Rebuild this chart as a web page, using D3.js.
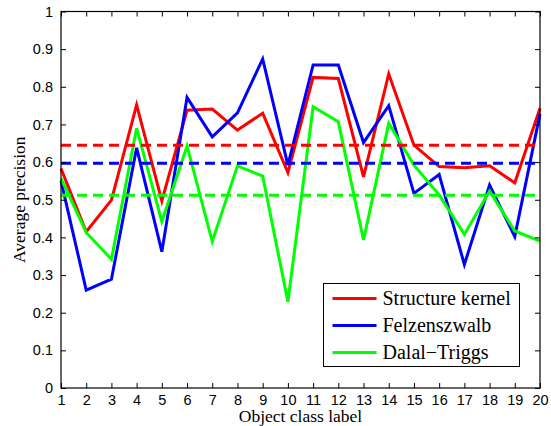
<!DOCTYPE html>
<html>
<head>
<meta charset="utf-8">
<script src="https://cdn.jsdelivr.net/npm/d3@7"></script>
<style>
  body { margin: 0; background: #fff; }
  svg { display: block; }
</style>
</head>
<body>
<svg id="chart" width="551" height="426"></svg>
<script>
// object classes on the x axis
const classes = [1, 2, 3, 4, 5, 6, 7, 8, 9, 10, 11, 12, 13, 14, 15, 16, 17, 18, 19, 20];

// average precision per class
const structureKernel = [0.583, 0.415, 0.499, 0.752, 0.497, 0.738, 0.741, 0.685, 0.73, 0.572,
  0.825, 0.822, 0.561, 0.834, 0.645, 0.588, 0.585, 0.59, 0.545, 0.743];
const felzenszwalb = [0.55, 0.26, 0.289, 0.638, 0.362, 0.772, 0.667, 0.731, 0.874, 0.592,
  0.858, 0.858, 0.652, 0.75, 0.517, 0.567, 0.328, 0.539, 0.402, 0.728];
const dalalTriggs = [0.557, 0.413, 0.342, 0.69, 0.442, 0.643, 0.389, 0.59, 0.563, 0.229,
  0.747, 0.707, 0.393, 0.703, 0.592, 0.513, 0.408, 0.523, 0.417, 0.39];

// mean AP of each method (dashed lines)
const meanAP = [0.645, 0.597, 0.512];

const seriesNames = ["Structure kernel", "Felzenszwalb", "Dalal\u2212Triggs"];
const yTicks = [0, 0.1, 0.2, 0.3, 0.4, 0.5, 0.6, 0.7, 0.8, 0.9, 1];

const colors = ["#ff0000", "#0000ff", "#00ff00"];
const seriesValues = [structureKernel, felzenszwalb, dalalTriggs];

const sansFont = '"Liberation Sans", Arial, sans-serif';
const serifFont = '"Liberation Serif", "Times New Roman", serif';

const svg = d3.select("#chart");

// plot box (MATLAB style axes)
const plot = { left: 61, right: 540, top: 11.5, bottom: 388 };

const xScale = d3.scaleLinear().domain([1, 20]).range([plot.left, plot.right]);
const yScale = d3.scaleLinear().domain([0, 1]).range([plot.bottom, plot.top]);

// lines
const line = d3.line()
  .x((d, i) => xScale(classes[i]))
  .y((d) => yScale(d));

seriesValues.forEach((vals, i) => {
  svg.append("path")
    .datum(vals)
    .attr("d", line)
    .attr("fill", "none")
    .attr("stroke", colors[i])
    .attr("stroke-width", 3)
    .attr("stroke-linejoin", "miter");
});

// dashed mean lines
meanAP.forEach((m, i) => {
  svg.append("line")
    .attr("x1", xScale(1))
    .attr("x2", xScale(20))
    .attr("y1", yScale(m))
    .attr("y2", yScale(m))
    .attr("stroke", colors[i])
    .attr("stroke-width", 3)
    .attr("stroke-dasharray", "10,6");
});

// axes with inward ticks on all sides
const axisBottom = d3.axisBottom(xScale).tickValues(classes).tickSize(-5).tickPadding(7).tickFormat(d3.format("d"));
const axisTop = d3.axisTop(xScale).tickValues(classes).tickSize(-5).tickFormat("");
const axisLeft = d3.axisLeft(yScale).tickValues(yTicks).tickSize(-5).tickPadding(8).tickFormat((d) => d3.format("~g")(d));
const axisRight = d3.axisRight(yScale).tickValues(yTicks).tickSize(-5).tickFormat("");

function styleAxis(g) {
  g.select(".domain").remove();
  g.selectAll(".tick line").attr("stroke", "#000").attr("stroke-width", 1);
  g.selectAll(".tick text")
    .attr("fill", "#000")
    .style("font-family", sansFont)
    .style("font-size", "14.5px");
}

svg.append("g").attr("transform", `translate(0,${plot.bottom})`).call(axisBottom).call(styleAxis);
svg.append("g").attr("transform", `translate(0,${plot.top})`).call(axisTop).call(styleAxis);
svg.append("g").attr("transform", `translate(${plot.left},0)`).call(axisLeft).call(styleAxis);
svg.append("g").attr("transform", `translate(${plot.right},0)`).call(axisRight).call(styleAxis);

// box
svg.append("rect")
  .attr("x", plot.left)
  .attr("y", plot.top)
  .attr("width", plot.right - plot.left)
  .attr("height", plot.bottom - plot.top)
  .attr("fill", "none")
  .attr("stroke", "#000")
  .attr("stroke-width", 1.2);

// axis titles
svg.append("text")
  .attr("x", (plot.left + plot.right) / 2)
  .attr("y", 422)
  .attr("text-anchor", "middle")
  .style("font-family", serifFont)
  .style("font-size", "17.5px")
  .text("Object class label");

svg.append("text")
  .attr("transform", `translate(25,${(plot.top + plot.bottom) / 2}) rotate(-90)`)
  .attr("text-anchor", "middle")
  .style("font-family", serifFont)
  .style("font-size", "17.5px")
  .text("Average precision");

// legend
const legend = svg.append("g").attr("transform", "translate(323.5,283.5)");
legend.append("rect")
  .attr("width", 196)
  .attr("height", 83)
  .attr("fill", "#fff")
  .attr("stroke", "#000")
  .attr("stroke-width", 1);

seriesNames.forEach((name, i) => {
  const y = 15 + i * 27;
  legend.append("line")
    .attr("x1", 9).attr("x2", 53)
    .attr("y1", y).attr("y2", y)
    .attr("stroke", colors[i])
    .attr("stroke-width", 3);
  legend.append("text")
    .attr("x", 59)
    .attr("y", y + 6.5)
    .style("font-family", serifFont)
    .style("font-size", "20px")
    .text(name);
});
</script>
</body>
</html>
